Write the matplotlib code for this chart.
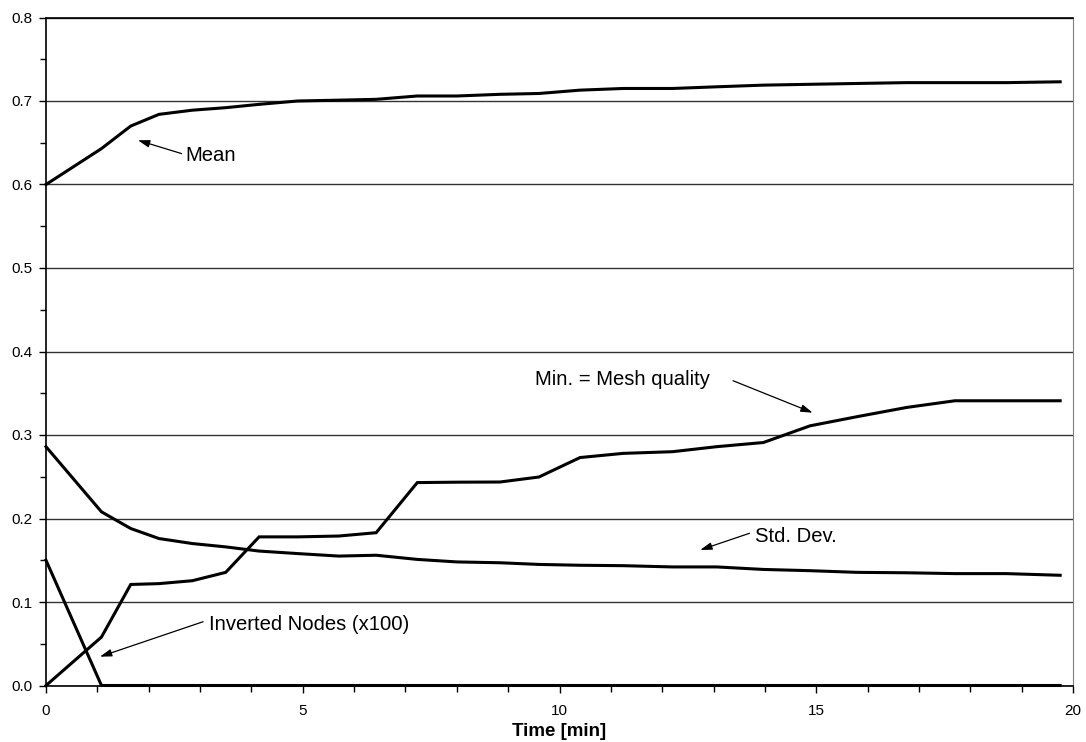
import matplotlib
matplotlib.use('Agg')
import matplotlib.pyplot as plt
from matplotlib.ticker import MultipleLocator

plt.rcParams['font.family'] = ['Liberation Sans', 'DejaVu Sans']

# time in minutes
time = [0, 1.08, 1.65, 2.2, 2.85, 3.5, 4.15, 4.9, 5.7, 6.43, 7.23, 8.0, 8.84,
        9.6, 10.4, 11.24, 12.2, 13.06, 13.97, 14.88, 15.8, 16.76, 17.7, 18.7, 19.75]

mean = [0.600, 0.643, 0.670, 0.684, 0.689, 0.692, 0.696, 0.700, 0.701, 0.702,
        0.706, 0.706, 0.708, 0.709, 0.713, 0.715, 0.715, 0.717, 0.719, 0.720,
        0.721, 0.722, 0.722, 0.722, 0.723]

min_quality = [0.0, 0.058, 0.121, 0.122, 0.1255, 0.1355, 0.178, 0.178, 0.179, 0.183,
               0.243, 0.2435, 0.2437, 0.2497, 0.273, 0.278, 0.280, 0.286, 0.291, 0.311,
               0.322, 0.333, 0.341, 0.341, 0.341]

std_dev = [0.286, 0.208, 0.188, 0.176, 0.170, 0.166, 0.161, 0.158, 0.155, 0.156,
           0.151, 0.148, 0.147, 0.145, 0.144, 0.1435, 0.142, 0.142, 0.139, 0.1375,
           0.1355, 0.135, 0.134, 0.134, 0.132]

inverted = [0.15] + [0.0] * 24

# label text, text anchor (x, y, ha), arrow start, arrow tip
labels = ['Mean', 'Min. = Mesh quality', 'Std. Dev.', 'Inverted Nodes (x100)']
text_xy = [(2.705, 0.635, 'left'), (12.93, 0.367, 'right'), (13.81, 0.179, 'left'),
           (3.17, 0.0725, 'left')]
arrow_from = [(2.64, 0.637), (13.38, 0.365), (13.7, 0.1823), (3.06, 0.0764)]
arrow_to = [(1.79, 0.653), (14.93, 0.3267), (12.74, 0.1623), (1.05, 0.0345)]

fig = plt.figure(figsize=(10.86, 7.42), dpi=100)
ax = fig.add_axes([46 / 1086, 1 - 685.5 / 742, (1073 - 46) / 1086, (685.5 - 17.5) / 742])

for ys in (mean, min_quality, std_dev, inverted):
    ax.plot(time, ys, color='black', lw=2.2, solid_joinstyle='miter', clip_on=False, zorder=3)

ax.set_xlim(0, 20)
ax.set_ylim(0, 0.8)
ax.xaxis.set_major_locator(MultipleLocator(5))
ax.xaxis.set_minor_locator(MultipleLocator(1))
ax.yaxis.set_major_locator(MultipleLocator(0.1))
ax.yaxis.set_minor_locator(MultipleLocator(0.05))
ax.set_yticks(ax.get_yticks())
ax.set_yticklabels(['%.1f' % v for v in ax.get_yticks()])
ax.set_ylim(0, 0.8)
ax.tick_params(which='major', direction='out', length=5, width=1, labelsize=11)
ax.tick_params(axis='x', which='major', pad=8)
ax.tick_params(axis='y', which='major', pad=5)
ax.tick_params(which='minor', direction='out', length=4, width=1)
ax.grid(axis='y', which='major', color='#333333', lw=1)
ax.set_axisbelow(True)
for s in ('left', 'bottom', 'top'):
    ax.spines[s].set_linewidth(1.2)
ax.spines['right'].set_color('#808080')

ax.set_xlabel('Time [min]', fontsize=13.5, fontweight='bold', labelpad=4)

for lab, txy, a0, a1 in zip(labels, text_xy, arrow_from, arrow_to):
    ax.text(txy[0], txy[1], lab, fontsize=14.6, va='center', ha=txy[2])
    ax.annotate('', xy=a1, xytext=a0,
                arrowprops=dict(arrowstyle='-|>,head_length=0.7,head_width=0.22',
                                color='black', lw=0.9, shrinkA=0, shrinkB=0))

fig.savefig('out.png', dpi=100)
